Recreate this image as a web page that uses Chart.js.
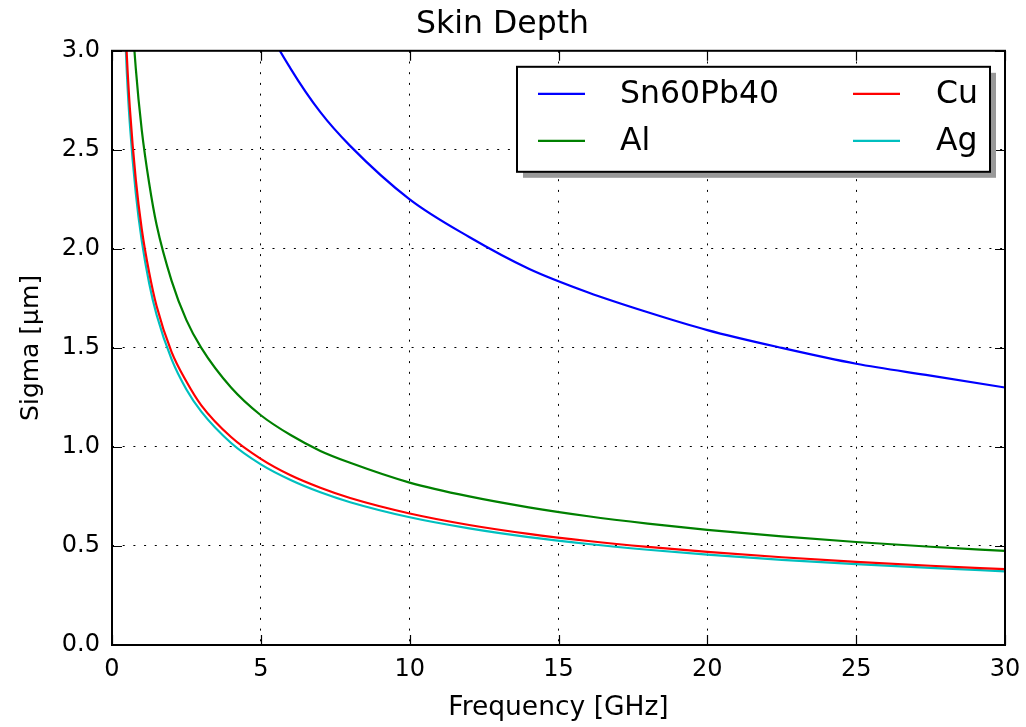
<!DOCTYPE html>
<html>
<head>
<meta charset="utf-8">
<script src="https://cdn.jsdelivr.net/npm/chart.js@4.4.0/dist/chart.umd.min.js"></script>
<style>
  html, body { margin: 0; padding: 0; background: #fff; }
  #wrap { width: 1026px; height: 727px; }
</style>
</head>
<body>
<div id="wrap"><canvas id="chart"></canvas></div>
<script>
"use strict";

// frequency in GHz, skin depth in um
var freqs   = [0.3, 0.4, 0.5, 0.6, 0.8, 1, 1.25, 1.5, 2, 2.5, 3, 4, 5, 6, 7, 8, 10, 12, 14, 16, 18, 20, 22.5, 25, 27.5, 30];
var snpb    = [null, null, null, null, null, null, null, null, null, null, null, 3.56, 3.18, 2.91, 2.69, 2.52, 2.25, 2.06, 1.90, 1.78, 1.68, 1.59, 1.50, 1.42, 1.36, 1.30];
var alu     = [4.75, 4.11, 3.68, 3.36, 2.91, 2.60, 2.33, 2.12, 1.84, 1.64, 1.50, 1.30, 1.16, 1.06, 0.98, 0.92, 0.82, 0.75, 0.695, 0.65, 0.613, 0.581, 0.548, 0.52, 0.496, 0.475];
var copper  = [3.83, 3.32, 2.97, 2.71, 2.35, 2.10, 1.88, 1.71, 1.48, 1.33, 1.21, 1.05, 0.94, 0.857, 0.794, 0.742, 0.664, 0.606, 0.561, 0.525, 0.495, 0.470, 0.443, 0.42, 0.40, 0.383];
var silver  = [3.72, 3.23, 2.885, 2.63, 2.28, 2.04, 1.825, 1.666, 1.443, 1.29, 1.178, 1.02, 0.912, 0.833, 0.771, 0.721, 0.645, 0.589, 0.545, 0.51, 0.481, 0.456, 0.43, 0.408, 0.389, 0.372];
var seriesNames = ["Sn60Pb40", "Al", "Cu", "Ag"];
var xTicks = [0, 5, 10, 15, 20, 25, 30];
var yTicks = [0, 0.5, 1.0, 1.5, 2.0, 2.5, 3.0];

var FONT = "'DejaVu Sans', sans-serif";

function toPoints(vals) {
  return freqs.map(function(f, i) { return { x: f, y: vals[i] }; });
}

function line(label, vals, color) {
  return {
    label: label,
    data: toPoints(vals),
    borderColor: color,
    backgroundColor: color,
    borderWidth: 2.2,
    pointRadius: 0,
    fill: false,
    cubicInterpolationMode: "monotone"
  };
}

// inward ticks on all four sides, the frame and the boxed legend
var framePlugin = {
  id: "frame",
  afterDraw: function(chart) {
    var ctx = chart.ctx;
    var a = chart.chartArea;
    var xs = chart.scales.x, ys = chart.scales.y;
    var tl = 10;

    ctx.save();
    ctx.strokeStyle = "#000";
    ctx.lineWidth = 1.2;
    ctx.beginPath();
    xTicks.forEach(function(v) {
      var px = Math.round(xs.getPixelForValue(v)) + 0.5;
      ctx.moveTo(px, a.bottom); ctx.lineTo(px, a.bottom - tl);
      ctx.moveTo(px, a.top); ctx.lineTo(px, a.top + tl);
    });
    yTicks.forEach(function(v) {
      var py = Math.round(ys.getPixelForValue(v)) + 0.5;
      ctx.moveTo(a.left, py); ctx.lineTo(a.left + tl, py);
      ctx.moveTo(a.right, py); ctx.lineTo(a.right - tl, py);
    });
    ctx.stroke();

    ctx.lineWidth = 2;
    ctx.strokeRect(a.left, a.top, a.right - a.left, a.bottom - a.top);

    // legend
    var bx = a.right - 488, by = a.top + 16, bw = 473, bh = 105;
    ctx.fillStyle = "#999";
    ctx.fillRect(bx + 6, by + 6, bw, bh);
    ctx.fillStyle = "#fff";
    ctx.fillRect(bx, by, bw, bh);
    ctx.strokeStyle = "#000";
    ctx.lineWidth = 2;
    ctx.strokeRect(bx, by, bw, bh);

    var cols = [{ lx: bx + 21, tx: bx + 103 }, { lx: bx + 336, tx: bx + 419 }];
    ctx.font = "31.5px " + FONT;
    ctx.textBaseline = "middle";
    ctx.textAlign = "left";
    chart.data.datasets.forEach(function(ds, i) {
      var c = cols[Math.floor(i / 2)];
      var y = by + 27 + (i % 2) * 47;
      ctx.strokeStyle = ds.borderColor;
      ctx.lineWidth = 2.2;
      ctx.beginPath();
      ctx.moveTo(c.lx, y); ctx.lineTo(c.lx + 47, y);
      ctx.stroke();
      ctx.fillStyle = "#000";
      ctx.fillText(ds.label, c.tx, y + 1);
    });
    ctx.restore();
  }
};

new Chart(document.getElementById("chart"), {
  type: "line",
  data: {
    datasets: [
      line(seriesNames[0], snpb, "#0000ff"),
      line(seriesNames[1], alu, "#008000"),
      line(seriesNames[2], copper, "#ff0000"),
      line(seriesNames[3], silver, "#00bfbf")
    ]
  },
  options: {
    responsive: true,
    maintainAspectRatio: false,
    animation: false,
    layout: { padding: { top: 0, right: 21, left: 0, bottom: 0 } },
    plugins: {
      legend: { display: false },
      tooltip: { enabled: false },
      title: {
        display: true,
        text: "Skin Depth",
        color: "#000",
        font: { family: FONT, size: 31.5, weight: "normal" },
        padding: { top: 6, bottom: 7 }
      }
    },
    scales: {
      x: {
        type: "linear",
        min: 0,
        max: 30,
        afterBuildTicks: function(scale) {
          scale.ticks = xTicks.map(function(v) { return { value: v }; });
        },
        afterFit: function(scale) {
          scale.height = 82;
          scale.paddingRight = 0;
          scale.paddingLeft = 0;
        },
        ticks: {
          color: "#000",
          padding: 10,
          maxRotation: 0,
          font: { family: FONT, size: 24 },
          callback: function(v) { return String(v); }
        },
        grid: { color: "#000", lineWidth: 1, drawTicks: false },
        border: { display: false, dash: [2, 8.7] },
        title: {
          display: true,
          text: "Frequency [GHz]",
          color: "#000",
          font: { family: FONT, size: 26.5 },
          padding: { top: 0, bottom: 3 }
        }
      },
      y: {
        type: "linear",
        min: 0,
        max: 3,
        afterBuildTicks: function(scale) {
          scale.ticks = yTicks.map(function(v) { return { value: v }; });
        },
        afterFit: function(scale) { scale.width = 112; },
        ticks: {
          color: "#000",
          padding: 12,
          font: { family: FONT, size: 24 },
          callback: function(v) { return v.toFixed(1); }
        },
        grid: { color: "#000", lineWidth: 1, drawTicks: false },
        border: { display: false, dash: [2, 8.7] },
        title: {
          display: true,
          text: "Sigma [μm]",
          color: "#000",
          font: { family: FONT, size: 25 },
          padding: { top: 16, bottom: 0 }
        }
      }
    }
  },
  plugins: [framePlugin]
});
</script>
</body>
</html>
